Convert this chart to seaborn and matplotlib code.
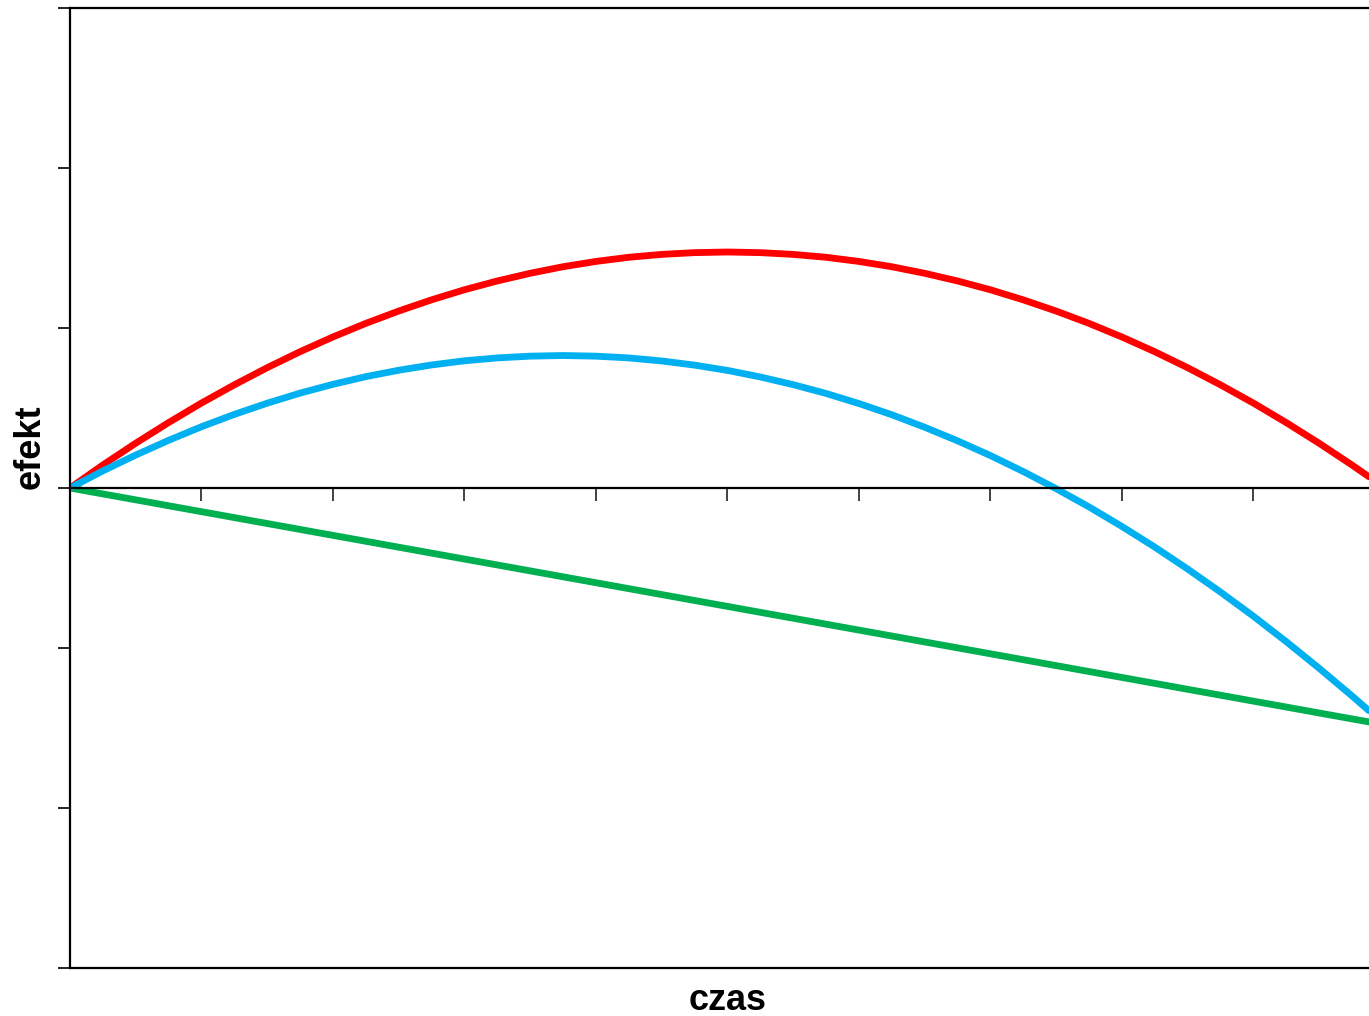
import pandas as pd
import matplotlib
matplotlib.use("Agg")
import matplotlib.pyplot as plt
import seaborn as sns

# values (x in units of ticks, curves end at the cropped right edge)
czas = [0, 0.25, 0.5, 0.75, 1, 1.25, 1.5, 1.75, 2, 2.25, 2.5, 2.75, 3, 3.25, 3.5, 3.75,
        4, 4.25, 4.5, 4.75, 5, 5.25, 5.5, 5.75, 6, 6.25, 6.5, 6.75, 7, 7.25, 7.5, 7.75,
        8, 8.25, 8.5, 8.75, 9, 9.25, 9.5, 9.75, 9.88]
efekt_czerwony = [0, 0.144, 0.280, 0.409, 0.531, 0.645, 0.752, 0.852, 0.944, 1.029, 1.106,
                  1.176, 1.239, 1.294, 1.342, 1.383, 1.416, 1.442, 1.460, 1.471, 1.475,
                  1.471, 1.460, 1.442, 1.416, 1.383, 1.342, 1.294, 1.239, 1.176, 1.106,
                  1.029, 0.944, 0.852, 0.752, 0.645, 0.531, 0.409, 0.280, 0.144, 0.070]
efekt_zielony = [0, -0.037, -0.074, -0.111, -0.148, -0.185, -0.222, -0.259, -0.296, -0.333,
                 -0.370, -0.407, -0.444, -0.481, -0.518, -0.555, -0.592, -0.629, -0.666,
                 -0.703, -0.740, -0.777, -0.814, -0.851, -0.888, -0.925, -0.962, -0.999,
                 -1.036, -1.073, -1.110, -1.147, -1.184, -1.221, -1.258, -1.295, -1.332,
                 -1.369, -1.406, -1.443, -1.462]
efekt_niebieski = [0, 0.107, 0.206, 0.298, 0.383, 0.460, 0.530, 0.593, 0.648, 0.696, 0.736,
                   0.769, 0.795, 0.813, 0.824, 0.828, 0.824, 0.813, 0.794, 0.768, 0.735,
                   0.694, 0.646, 0.591, 0.528, 0.458, 0.380, 0.295, 0.203, 0.103, -0.004,
                   -0.118, -0.240, -0.369, -0.506, -0.650, -0.801, -0.960, -1.126, -1.299,
                   -1.392]

x_ticks = [1, 2, 3, 4, 5, 6, 7, 8, 9]
y_ticks = [-3, -2, -1, 0, 1, 2, 3]

sns.set_style("white")
plt.rcParams["font.family"] = ["Liberation Sans", "DejaVu Sans"]
plt.rcParams["text.color"] = "black"

df = pd.concat([
    pd.DataFrame({"czas": czas, "efekt": efekt_zielony, "seria": "zielony"}),
    pd.DataFrame({"czas": czas, "efekt": efekt_czerwony, "seria": "czerwony"}),
    pd.DataFrame({"czas": czas, "efekt": efekt_niebieski, "seria": "niebieski"}),
])
palette = {"zielony": "#00B050", "czerwony": "#FF0000", "niebieski": "#00B0F0"}

fig = plt.figure(figsize=(13.69, 10.16), dpi=100)
ax = fig.add_axes([70 / 1369, 48 / 1016, 1299 / 1369, 960 / 1016])

sns.lineplot(data=df, x="czas", y="efekt", hue="seria", palette=palette,
             hue_order=["zielony", "czerwony", "niebieski"], linewidth=4.9,
             legend=False, ax=ax, sort=False, solid_joinstyle="round", solid_capstyle="round")

ax.set_xlim(0, 9.88)
ax.set_ylim(-3, 3)
ax.set_xticks(x_ticks)
ax.set_yticks(y_ticks)
ax.set_xticklabels([])
ax.set_yticklabels([])

ax.spines["bottom"].set_position(("data", 0))
ax.spines["right"].set_visible(False)
for s in ["bottom", "top", "left"]:
    ax.spines[s].set_linewidth(1.6)
    ax.spines[s].set_color("black")
ax.axhline(-3, color="black", linewidth=1.6, clip_on=False)
ax.tick_params(axis="x", direction="out", length=9, width=1.2, color="#222222", bottom=True)
ax.tick_params(axis="y", direction="out", length=9, width=1.2, color="black", left=True)

ax.set_xlabel("")
ax.set_ylabel("")
ax.text(5, -0.034, "czas", transform=ax.get_xaxis_transform(), ha="center", va="center",
        fontsize=26, fontweight="bold", color="black")
ax.text(-0.031, 0.5435, "efekt", transform=ax.transAxes, ha="center", va="center",
        rotation=90, fontsize=26, fontweight="bold", color="black")

fig.savefig("out.png", dpi=100)
